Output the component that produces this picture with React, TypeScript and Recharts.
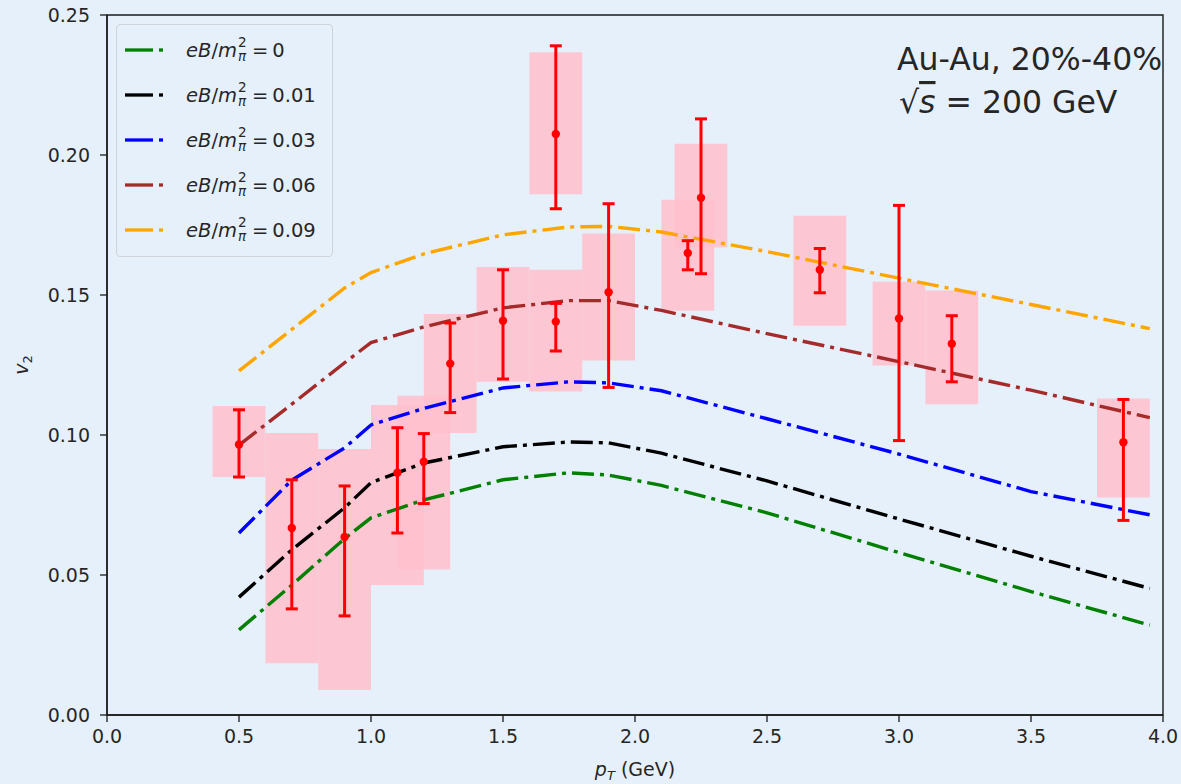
import React from "react";
import {
  ComposedChart,
  ErrorBar,
  Legend,
  Line,
  ReferenceArea,
  Scatter,
  XAxis,
  YAxis,
} from "recharts";

// model curves, v2 vs pT for each eB/m_pi^2
const curvePt = [0.5, 0.7, 0.9, 1.0, 1.2, 1.5, 1.75, 1.9, 2.1, 2.5, 3.0, 3.5, 3.95];
const v2eB000 = [0.0304, 0.0464, 0.063, 0.0704, 0.0768, 0.084, 0.0865, 0.0857, 0.082, 0.0722, 0.058, 0.0441, 0.0321];
const v2eB001 = [0.0421, 0.059, 0.074, 0.083, 0.09, 0.0958, 0.0975, 0.0972, 0.0935, 0.0836, 0.07, 0.0567, 0.0452];
const v2eB003 = [0.065, 0.0839, 0.0954, 0.1036, 0.1095, 0.1168, 0.119, 0.1186, 0.1158, 0.1058, 0.0932, 0.0798, 0.0715];
const v2eB006 = [0.0964, 0.111, 0.1258, 0.133, 0.1386, 0.1454, 0.148, 0.148, 0.1445, 0.1362, 0.1262, 0.116, 0.1062];
const v2eB009 = [0.1229, 0.1377, 0.1525, 0.158, 0.1647, 0.1715, 0.1743, 0.1745, 0.1725, 0.1655, 0.156, 0.1466, 0.138];

// measured points with statistical and systematic errors
const dataPt = [0.5, 0.7, 0.9, 1.1, 1.2, 1.3, 1.5, 1.7, 1.7, 1.9, 2.2, 2.25, 2.7, 3.0, 3.2, 3.85];
const dataV2 = [0.0966, 0.0668, 0.0636, 0.0865, 0.0905, 0.1255, 0.1408, 0.2075, 0.1405, 0.151, 0.165, 0.1847, 0.159, 0.1416, 0.1326, 0.0974];
const statLo = [0.085, 0.0379, 0.0354, 0.065, 0.0755, 0.108, 0.12, 0.1808, 0.13, 0.117, 0.159, 0.1576, 0.1508, 0.098, 0.119, 0.0695];
const statHi = [0.109, 0.084, 0.0818, 0.1026, 0.1005, 0.14, 0.159, 0.239, 0.147, 0.1826, 0.1694, 0.2129, 0.1666, 0.182, 0.1426, 0.1127];
const sysLo = [0.085, 0.0185, 0.0089, 0.0464, 0.052, 0.1007, 0.119, 0.186, 0.1155, 0.1266, 0.1444, 0.167, 0.139, 0.1248, 0.111, 0.0777];
const sysHi = [0.1104, 0.1007, 0.095, 0.1107, 0.114, 0.1432, 0.16, 0.2367, 0.159, 0.172, 0.184, 0.204, 0.1783, 0.1547, 0.1516, 0.113];
const sysHalfWidth = 0.1;

const xTicks = [0, 0.5, 1.0, 1.5, 2.0, 2.5, 3.0, 3.5, 4.0];
const yTicks = [0, 0.05, 0.1, 0.15, 0.2, 0.25];

const curveKeys = ["eB000", "eB001", "eB003", "eB006", "eB009"];
const curveLabels = ["0", "0.01", "0.03", "0.06", "0.09"];
const curveColors = ["#008000", "#000000", "#0000ff", "#a52a2a", "#ffa500"];
const curveValues = [v2eB000, v2eB001, v2eB003, v2eB006, v2eB009];

const curveData = curvePt.map((pt, i) => {
  const row: Record<string, number> = { pt };
  curveKeys.forEach((k, j) => (row[k] = curveValues[j][i]));
  return row;
});

const points = dataPt.map((pt, i) => ({
  pt,
  v2: dataV2[i],
  err: [dataV2[i] - statLo[i], statHi[i] - dataV2[i]],
}));

const FONT = "'DejaVu Sans', 'Liberation Sans', sans-serif";
const BG = "#e6f0fa";
const TXT = "#262626";

function MathLabel({ value }: { value: string }) {
  return (
    <span style={{ whiteSpace: "nowrap" }}>
      <i>eB</i>/<i>m</i>
      <span
        style={{
          position: "relative",
          display: "inline-block",
          width: 11,
          height: "1em",
        }}
      >
        <span style={{ position: "absolute", left: 1, top: -1, fontSize: 13.5, lineHeight: 1 }}>2</span>
        <i style={{ position: "absolute", left: 1, top: 13, fontSize: 13.5, lineHeight: 1 }}>π</i>
      </span>
      <span style={{ margin: "0 4px" }}>=</span>
      {value}
    </span>
  );
}

function renderLegend(props: any) {
  const items = (props.payload || []).filter((p: any) => p.type !== "none");
  return (
    <div
      style={{
        width: 217,
        boxSizing: "border-box",
        border: "1px solid #cfd3d8",
        borderRadius: 4,
        background: BG,
        padding: "2px 0 4px 0",
        fontFamily: FONT,
        fontSize: 19.5,
        lineHeight: "22px",
        color: TXT,
      }}
    >
      {items.map((item: any) => (
        <div key={item.value} style={{ height: 45, display: "flex", alignItems: "center" }}>
          <svg width={40} height={10} style={{ marginLeft: 8, marginRight: 21 }}>
            <line x1={0} y1={5} x2={28} y2={5} stroke={item.color} strokeWidth={3.3} />
            <line x1={34} y1={5} x2={38} y2={5} stroke={item.color} strokeWidth={3.3} />
          </svg>
          <MathLabel value={item.value} />
        </div>
      ))}
    </div>
  );
}

const dot = (p: any) => <circle cx={p.cx} cy={p.cy} r={4.2} fill="#ff0000" />;

export default function App() {
  return (
    <div
      style={{
        position: "absolute",
        left: 0,
        top: 0,
        width: 1181,
        height: 784,
        background: BG,
        fontFamily: FONT,
      }}
    >
      <ComposedChart
        width={1181}
        height={784}
        data={curveData}
        margin={{ top: 15, right: 18, bottom: 19, left: 0 }}
      >
        <XAxis
          dataKey="pt"
          type="number"
          domain={[0, 4]}
          ticks={xTicks}
          tickFormatter={(v: number) => v.toFixed(1)}
          height={50}
          tickSize={7}
          tickMargin={8}
          tick={{ fill: TXT, fontSize: 19, fontFamily: FONT }}
          axisLine={{ stroke: "#1a1a1a", strokeWidth: 1.4 }}
          tickLine={{ stroke: "#1a1a1a", strokeWidth: 1.3 }}
          allowDataOverflow
        />
        <YAxis
          type="number"
          domain={[0, 0.25]}
          ticks={yTicks}
          tickFormatter={(v: number) => v.toFixed(2)}
          width={107}
          tickSize={7}
          tickMargin={10}
          tick={{ fill: TXT, fontSize: 19, fontFamily: FONT }}
          axisLine={{ stroke: "#1a1a1a", strokeWidth: 1.4 }}
          tickLine={{ stroke: "#1a1a1a", strokeWidth: 1.3 }}
          allowDataOverflow
        />
        {dataPt.map((pt, i) => (
          <ReferenceArea
            key={"sys" + i}
            x1={pt - sysHalfWidth}
            x2={pt + sysHalfWidth}
            y1={sysLo[i]}
            y2={sysHi[i]}
            fill="#ffc0cb"
            fillOpacity={0.85}
            stroke="none"
            ifOverflow="visible"
          />
        ))}
        <ReferenceArea
          x1={0}
          x2={4}
          y1={0}
          y2={0.25}
          fill="none"
          stroke="#1a1a1a"
          strokeWidth={1.4}
          ifOverflow="visible"
        />
        {curveKeys.map((k, j) => (
          <Line
            key={k}
            dataKey={k}
            name={curveLabels[j]}
            type="linear"
            stroke={curveColors[j]}
            strokeWidth={3.4}
            strokeDasharray="22 6 4 6"
            dot={false}
            activeDot={false}
            isAnimationActive={false}
          />
        ))}
        <Scatter
          data={points}
          dataKey="v2"
          fill="#ff0000"
          shape={dot}
          legendType="none"
          isAnimationActive={false}
        >
          <ErrorBar dataKey="err" direction="y" width={6} stroke="#ff0000" strokeWidth={3} />
        </Scatter>
        <Legend
          content={renderLegend}
          layout="vertical"
          align="center"
          verticalAlign="middle"
          wrapperStyle={{ left: 116, top: 24, width: 217 }}
        />
      </ComposedChart>
      <svg
        width={1181}
        height={784}
        style={{ position: "absolute", left: 0, top: 0, pointerEvents: "none" }}
        fontFamily={FONT}
      >
        <text x={897} y={70} fontSize={31.5} fill={TXT}>
          Au-Au, 20%-40%
        </text>
        <text x={899} y={113} fontSize={31.5} fill={TXT}>
          <tspan>√</tspan>
          <tspan fontStyle="italic" textDecoration="overline">s</tspan>
          <tspan> = 200 GeV</tspan>
        </text>
        <text x={635} y={776} fontSize={19} fill={TXT} textAnchor="middle">
          <tspan fontStyle="italic">p</tspan>
          <tspan fontStyle="italic" fontSize={13} dy={4}>T</tspan>
          <tspan dy={-4}> (GeV)</tspan>
        </text>
        <text
          x={28}
          y={365}
          fontSize={19}
          fill={TXT}
          textAnchor="middle"
          transform="rotate(-90 28 365)"
        >
          <tspan fontStyle="italic">v</tspan>
          <tspan fontSize={13} dy={4}>2</tspan>
        </text>
      </svg>
    </div>
  );
}
